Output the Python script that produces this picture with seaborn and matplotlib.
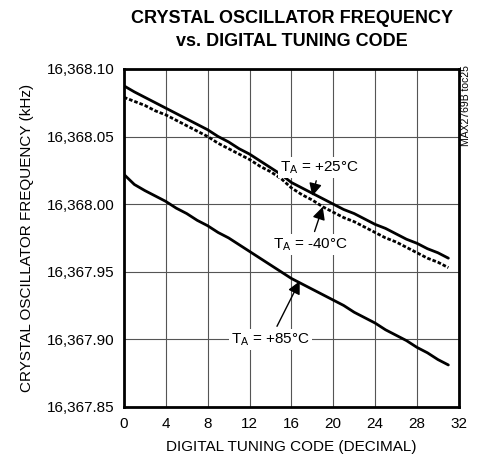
import pandas as pd
import matplotlib.pyplot as plt
import seaborn as sns
from matplotlib.ticker import FuncFormatter

codes = list(range(32))
freq_p25 = [16368.0875, 16368.083, 16368.079, 16368.075, 16368.071, 16368.067, 16368.063, 16368.059,
            16368.055, 16368.050, 16368.046, 16368.041, 16368.037, 16368.032, 16368.027, 16368.022,
            16368.016, 16368.012, 16368.008, 16368.004, 16368.000, 16367.996, 16367.993, 16367.989,
            16367.985, 16367.982, 16367.978, 16367.974, 16367.971, 16367.967, 16367.964, 16367.960]
freq_m40 = [16368.079, 16368.076, 16368.073, 16368.069, 16368.066, 16368.062, 16368.058, 16368.054,
            16368.050, 16368.045, 16368.041, 16368.037, 16368.033, 16368.028, 16368.024, 16368.019,
            16368.012, 16368.007, 16368.003, 16367.998, 16367.994, 16367.990, 16367.987, 16367.983,
            16367.979, 16367.975, 16367.972, 16367.968, 16367.964, 16367.960, 16367.957, 16367.953]
freq_p85 = [16368.022, 16368.0145, 16368.010, 16368.006, 16368.002, 16367.997, 16367.993, 16367.988,
            16367.984, 16367.979, 16367.975, 16367.970, 16367.965, 16367.960, 16367.955, 16367.950,
            16367.945, 16367.941, 16367.937, 16367.933, 16367.929, 16367.925, 16367.920, 16367.916,
            16367.912, 16367.907, 16367.903, 16367.899, 16367.894, 16367.890, 16367.885, 16367.881]
temps = ['+25', '-40', '+85']
x_ticks = [0, 4, 8, 12, 16, 20, 24, 28, 32]
y_ticks = [16367.85, 16367.90, 16367.95, 16368.00, 16368.05, 16368.10]

df = pd.DataFrame({
    'code': codes * 3,
    'freq': freq_p25 + freq_m40 + freq_p85,
    'temp': [t for t in temps for _ in codes],
})

sns.set_style('white')
plt.rcParams['font.family'] = ['Liberation Sans', 'DejaVu Sans']
plt.rcParams['mathtext.fontset'] = 'custom'
plt.rcParams['mathtext.rm'] = 'Liberation Sans'
for k in ['text.color', 'axes.labelcolor', 'xtick.color', 'ytick.color']:
    plt.rcParams[k] = 'black'

fig = plt.figure(figsize=(4.84, 4.72), dpi=100)
ax = fig.add_axes([0.256, 0.138, 0.692, 0.716])

sns.lineplot(data=df, x='code', y='freq', hue='temp', style='temp',
             palette=['black'] * 3, dashes={'+25': '', '-40': (1.3, 0.7), '+85': ''},
             linewidth=2.0, legend=False, ax=ax)

ax.set_xlim(0, 32)
ax.set_ylim(16367.85, 16368.10)
ax.set_xticks(x_ticks)
ax.set_yticks(y_ticks)
ax.yaxis.set_major_formatter(FuncFormatter(lambda v, p: f"{v:,.2f}"))
ax.grid(True, color='#555555', linewidth=0.8)
ax.tick_params(axis='both', labelsize=11, length=0, pad=7)
for s in ax.spines.values():
    s.set_linewidth(2.0)
    s.set_color('black')

ax.set_xlabel('DIGITAL TUNING CODE (DECIMAL)', fontsize=11, labelpad=7)
ax.set_ylabel('CRYSTAL OSCILLATOR FREQUENCY (kHz)', fontsize=11, labelpad=9)
fig.text(0.603, 0.978, 'CRYSTAL OSCILLATOR FREQUENCY\nvs. DIGITAL TUNING CODE',
         ha='center', va='top', fontsize=13, fontweight='bold', linespacing=1.45)
fig.text(0.963, 0.862, 'MAX2769B toc25', rotation=90, ha='center', va='top', fontsize=7.5)

box = dict(facecolor='white', edgecolor='none', pad=1.5)
arrow = dict(arrowstyle='-|>', color='black', lw=1.0, mutation_scale=19, shrinkA=2, shrinkB=0)
ax.annotate(r'T$_\mathregular{A}$ = +25°C', xy=(18.0, 16368.006), xytext=(18.7, 16368.027),
            ha='center', va='center', fontsize=11, bbox=box, arrowprops=arrow)
ax.annotate(r'T$_\mathregular{A}$ = -40°C', xy=(19.0, 16367.998), xytext=(17.8, 16367.970),
            ha='center', va='center', fontsize=11, bbox=box, arrowprops=arrow)
ax.annotate(r'T$_\mathregular{A}$ = +85°C', xy=(16.8, 16367.943), xytext=(14.0, 16367.900),
            ha='center', va='center', fontsize=11, bbox=box, arrowprops=arrow)

fig.savefig('out.png', dpi=100)
